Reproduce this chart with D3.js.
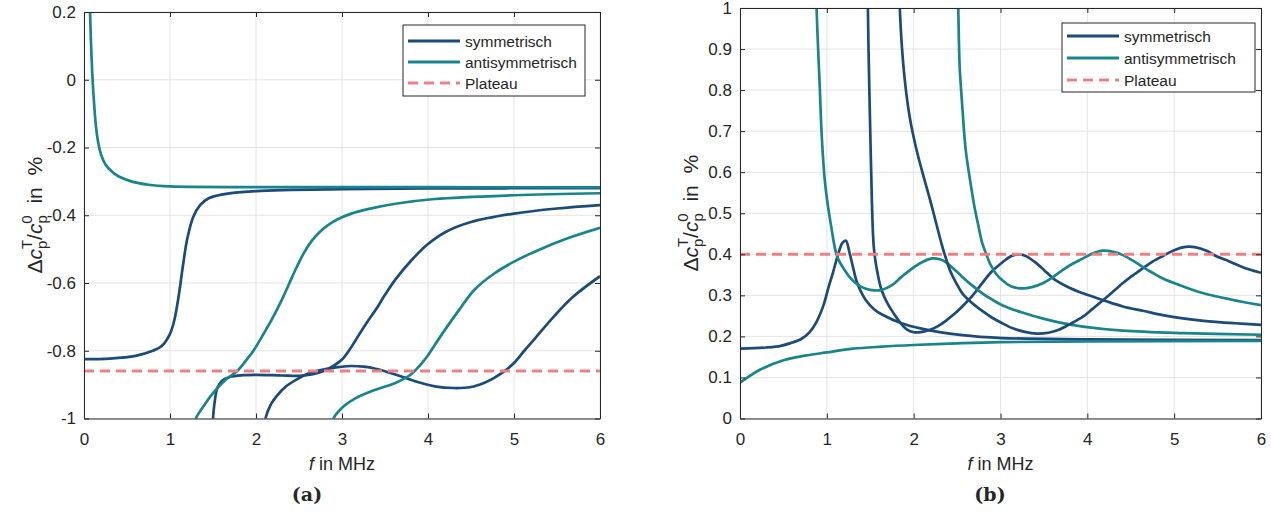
<!DOCTYPE html>
<html>
<head>
<meta charset="utf-8">
<script src="https://cdn.jsdelivr.net/npm/d3@7"></script>
<style>
  body { margin: 0; background: #fff; }
  text { font-family: "Liberation Sans", Arial, Helvetica, sans-serif; fill: #262626; }
</style>
</head>
<body>
<div id="chart"></div>
<script>
// ---- data ----
const xTicks = [0, 1, 2, 3, 4, 5, 6];
const yTickLabelsA = ['-1', '-0.8', '-0.6', '-0.4', '-0.2', '0', '0.2'];
const yTickLabelsB = ['0', '0.1', '0.2', '0.3', '0.4', '0.5', '0.6', '0.7', '0.8', '0.9', '1'];
const legendLabels = ['symmetrisch', 'antisymmetrisch', 'Plateau'];
const captions = ['(a)', '(b)'];
const plateauA = -0.86;
const plateauB = 0.4;

// panel (a): [f in MHz, value in %]
const aSym0 = [[0, -0.825], [0.3, -0.823], [0.6, -0.815], [0.8, -0.8], [0.9, -0.787], [1.0, -0.75],
  [1.05, -0.71], [1.1, -0.64], [1.15, -0.55], [1.2, -0.47], [1.27, -0.405], [1.35, -0.37],
  [1.45, -0.35], [1.6, -0.339], [2.0, -0.329], [3, -0.323], [4, -0.321], [6, -0.32]];
const aSym1 = [[1.49, -1.05], [1.5, -1.0], [1.52, -0.95], [1.55, -0.91], [1.6, -0.89], [1.7, -0.877],
  [1.85, -0.872], [2.0, -0.871], [2.3, -0.873], [2.5, -0.874], [2.65, -0.87], [2.8, -0.858],
  [2.9, -0.845], [3.0, -0.826], [3.08, -0.8], [3.16, -0.768], [3.28, -0.72], [3.39, -0.68],
  [3.5, -0.635], [3.62, -0.59], [3.8, -0.535], [4.0, -0.485], [4.2, -0.45], [4.5, -0.42],
  [5, -0.395], [5.5, -0.38], [6, -0.37]];
const aSym2 = [[2.08, -1.05], [2.11, -1.0], [2.17, -0.96], [2.24, -0.934], [2.35, -0.905], [2.47, -0.885],
  [2.6, -0.868], [2.7, -0.86], [2.93, -0.849], [3.1, -0.845], [3.25, -0.847], [3.39, -0.853],
  [3.62, -0.87], [3.85, -0.89], [4.08, -0.905], [4.3, -0.91], [4.5, -0.907], [4.65, -0.895],
  [4.77, -0.88], [4.9, -0.858], [5.0, -0.836], [5.12, -0.8], [5.23, -0.768], [5.46, -0.7],
  [5.69, -0.64], [6, -0.58]];
const aAnti0 = [[0.065, 0.25], [0.08, 0.12], [0.1, 0.0], [0.12, -0.08], [0.14, -0.14], [0.165, -0.185],
  [0.2, -0.222], [0.25, -0.25], [0.32, -0.27], [0.4, -0.285], [0.55, -0.3], [0.75, -0.31],
  [1.0, -0.315], [2, -0.317], [4, -0.317], [6, -0.318]];
const aAnti1 = [[1.25, -1.05], [1.3, -1.0], [1.4, -0.96], [1.5, -0.925], [1.65, -0.885], [1.78, -0.86],
  [1.88, -0.83], [1.97, -0.8], [2.1, -0.745], [2.2, -0.7], [2.3, -0.65], [2.38, -0.605],
  [2.47, -0.555], [2.56, -0.51], [2.65, -0.475], [2.75, -0.447], [2.85, -0.427], [2.95, -0.412],
  [3.1, -0.396], [3.3, -0.382], [3.62, -0.366], [4.08, -0.352], [5, -0.341], [6, -0.335]];
const aAnti2 = [[2.85, -1.05], [2.9, -1.0], [3.02, -0.964], [3.16, -0.94], [3.39, -0.915], [3.62, -0.895],
  [3.8, -0.87], [3.9, -0.845], [3.99, -0.817], [4.17, -0.748], [4.36, -0.68], [4.54, -0.62],
  [4.77, -0.572], [5, -0.537], [5.28, -0.503], [5.6, -0.47], [6, -0.437]];

// panel (b)
const bSym0 = [[0, 0.17], [0.3, 0.173], [0.47, 0.177], [0.6, 0.185], [0.7, 0.193], [0.8, 0.21],
  [0.88, 0.235], [0.96, 0.275], [1.02, 0.32], [1.07, 0.355], [1.13, 0.4], [1.18, 0.428],
  [1.22, 0.433], [1.26, 0.405], [1.3, 0.37], [1.35, 0.33], [1.45, 0.288], [1.55, 0.265],
  [1.63, 0.254], [1.86, 0.232], [2.09, 0.219], [2.56, 0.203], [3.02, 0.196], [4, 0.193], [6, 0.191]];
const bSym1 = [[1.47, 1.05], [1.48, 0.9], [1.5, 0.7], [1.52, 0.52], [1.54, 0.42], [1.57, 0.37],
  [1.63, 0.313], [1.7, 0.28], [1.77, 0.256], [1.85, 0.232], [1.92, 0.217], [2.0, 0.21],
  [2.1, 0.211], [2.19, 0.216], [2.28, 0.225], [2.37, 0.238], [2.47, 0.255], [2.56, 0.273],
  [2.68, 0.3], [2.79, 0.33], [2.9, 0.358], [3.02, 0.38], [3.12, 0.395], [3.22, 0.4], [3.3, 0.395],
  [3.39, 0.382], [3.5, 0.362], [3.62, 0.339], [3.8, 0.318], [3.95, 0.305], [4.2, 0.287],
  [4.41, 0.273], [4.65, 0.262], [4.87, 0.252], [5.1, 0.244], [5.34, 0.238], [5.7, 0.232], [6, 0.228]];
const bSym2 = [[1.83, 1.05], [1.86, 0.92], [1.9, 0.82], [1.95, 0.74], [2.0, 0.685], [2.05, 0.64],
  [2.12, 0.585], [2.19, 0.532], [2.26, 0.475], [2.33, 0.419], [2.42, 0.36], [2.49, 0.33],
  [2.56, 0.305], [2.68, 0.28], [2.79, 0.262], [2.9, 0.246], [3.02, 0.232], [3.15, 0.219],
  [3.28, 0.211], [3.42, 0.207], [3.55, 0.209], [3.67, 0.216], [3.8, 0.23], [3.95, 0.248],
  [4.06, 0.267], [4.18, 0.288], [4.3, 0.31], [4.41, 0.33], [4.52, 0.348], [4.64, 0.366],
  [4.75, 0.382], [4.87, 0.396], [5.0, 0.41], [5.13, 0.418], [5.25, 0.417], [5.38, 0.408],
  [5.48, 0.396], [5.6, 0.386], [5.71, 0.376], [5.85, 0.364], [6, 0.355]];
const bAnti0 = [[0, 0.087], [0.1, 0.102], [0.24, 0.12], [0.5, 0.142], [0.75, 0.153], [1, 0.161],
  [1.3, 0.17], [1.63, 0.175], [2, 0.179], [2.5, 0.183], [3, 0.186], [4, 0.188], [6, 0.189]];
const bAnti1 = [[0.875, 1.05], [0.89, 0.95], [0.92, 0.8], [0.94, 0.694], [0.98, 0.573], [1.05, 0.468],
  [1.12, 0.394], [1.21, 0.36], [1.28, 0.34], [1.35, 0.327], [1.45, 0.316], [1.55, 0.312],
  [1.63, 0.313], [1.75, 0.325], [1.86, 0.345], [1.98, 0.365], [2.09, 0.38], [2.21, 0.39],
  [2.3, 0.388], [2.37, 0.381], [2.46, 0.365], [2.56, 0.345], [2.68, 0.323], [2.79, 0.305],
  [2.9, 0.29], [3.02, 0.276], [3.25, 0.258], [3.48, 0.244], [3.7, 0.233], [3.95, 0.224],
  [4.41, 0.214], [5.1, 0.208], [6, 0.204]];
const bAnti2 = [[2.51, 1.05], [2.52, 0.93], [2.53, 0.856], [2.56, 0.76], [2.6, 0.653], [2.65, 0.58],
  [2.7, 0.516], [2.75, 0.465], [2.79, 0.427], [2.84, 0.398], [2.88, 0.377], [2.95, 0.352],
  [3.02, 0.337], [3.12, 0.322], [3.25, 0.317], [3.36, 0.32], [3.48, 0.329], [3.6, 0.344],
  [3.71, 0.361], [3.83, 0.377], [3.95, 0.39], [4.06, 0.402], [4.18, 0.409], [4.3, 0.406],
  [4.41, 0.398], [4.52, 0.385], [4.64, 0.369], [4.75, 0.355], [4.87, 0.341], [5.1, 0.322],
  [5.34, 0.305], [5.65, 0.29], [6, 0.276]];

// ---- layout ----
const colorSym = '#1b4a7c';
const colorAnti = '#18858c';
const colorPlateau = '#f08080';

const panels = [
  {
    left: 84, right: 600, top: 12, bottom: 418.5, yDomain: [-1, 0.2], yLabels: yTickLabelsA,
    sym: [aSym0, aSym1, aSym2], anti: [aAnti0, aAnti1, aAnti2], plateau: plateauA,
    legend: { x: 403, y: 25, w: 182, h: 71, rows: [41, 62, 83] },
    caption: captions[0], captionX: 307, ylabelX: 42,
  },
  {
    left: 740, right: 1261, top: 8, bottom: 418.5, yDomain: [0, 1], yLabels: yTickLabelsB,
    sym: [bSym0, bSym1, bSym2], anti: [bAnti0, bAnti1, bAnti2], plateau: plateauB,
    legend: { x: 1062, y: 23, w: 193, h: 69, rows: [36, 58, 80] },
    caption: captions[1], captionX: 990, ylabelX: 698,
  },
];

const svg = d3.select('#chart').append('svg')
  .attr('width', 1271)
  .attr('height', 513);

panels.forEach((p, i) => {
  const x = d3.scaleLinear().domain([0, 6]).range([p.left, p.right]);
  const y = d3.scaleLinear().domain(p.yDomain).range([p.bottom, p.top]);
  const yTicks = p.yLabels.map(Number);
  const g = svg.append('g');

  // grid
  g.append('g').selectAll('line').data(xTicks).join('line')
    .attr('x1', (d) => x(d)).attr('x2', (d) => x(d))
    .attr('y1', p.top).attr('y2', p.bottom)
    .attr('stroke', '#e4e4e4');
  g.append('g').selectAll('line').data(yTicks).join('line')
    .attr('x1', p.left).attr('x2', p.right)
    .attr('y1', (d) => y(d)).attr('y2', (d) => y(d))
    .attr('stroke', '#e4e4e4');

  // curves
  svg.append('clipPath').attr('id', `clip${i}`)
    .append('rect')
    .attr('x', p.left).attr('y', p.top)
    .attr('width', p.right - p.left).attr('height', p.bottom - p.top);

  const line = d3.line()
    .x((d) => x(d[0]))
    .y((d) => y(d[1]))
    .curve(d3.curveCatmullRom.alpha(0.5));

  const curves = g.append('g').attr('clip-path', `url(#clip${i})`);
  p.sym.forEach((s, k) => {
    curves.append('path').datum(s)
      .attr('d', line).attr('fill', 'none')
      .attr('stroke', colorSym).attr('stroke-width', 2.7);
    curves.append('path').datum(p.anti[k])
      .attr('d', line).attr('fill', 'none')
      .attr('stroke', colorAnti).attr('stroke-width', 2.7);
  });
  curves.append('line')
    .attr('x1', p.left).attr('x2', p.right)
    .attr('y1', y(p.plateau)).attr('y2', y(p.plateau))
    .attr('stroke', colorPlateau).attr('stroke-width', 3)
    .attr('stroke-dasharray', '10,6');

  // axes
  const styleAxis = (a) => {
    a.selectAll('path, line').attr('stroke', '#262626');
    a.selectAll('text').attr('fill', '#262626')
      .attr('font-family', '"Liberation Sans", Arial, sans-serif')
      .attr('font-size', 17);
  };
  g.append('g').attr('transform', `translate(0,${p.bottom})`)
    .call(d3.axisBottom(x).tickValues(xTicks).tickFormat((d) => String(d))
      .tickSize(-5).tickSizeOuter(0).tickPadding(14))
    .call(styleAxis);
  g.append('g').attr('transform', `translate(0,${p.top})`)
    .call(d3.axisTop(x).tickValues(xTicks).tickFormat('')
      .tickSize(-5).tickSizeOuter(0))
    .call(styleAxis);
  g.append('g').attr('transform', `translate(${p.left},0)`)
    .call(d3.axisLeft(y).tickValues(yTicks).tickFormat((d, j) => p.yLabels[j])
      .tickSize(-5).tickSizeOuter(0).tickPadding(8))
    .call(styleAxis);
  g.append('g').attr('transform', `translate(${p.right},0)`)
    .call(d3.axisRight(y).tickValues(yTicks).tickFormat('')
      .tickSize(-5).tickSizeOuter(0))
    .call(styleAxis);

  // x label
  const xl = g.append('text')
    .attr('x', (p.left + p.right) / 2).attr('y', 470)
    .attr('text-anchor', 'middle').attr('font-size', 18);
  xl.append('tspan').attr('font-style', 'italic').text('f');
  xl.append('tspan').text(' in MHz');

  // y label
  const yl = g.append('text')
    .attr('transform', `translate(${p.ylabelX},${(p.top + p.bottom) / 2}) rotate(-90)`)
    .attr('text-anchor', 'middle').attr('font-size', 21);
  yl.append('tspan').text('Δ');
  yl.append('tspan').attr('font-style', 'italic').text('c');
  yl.append('tspan').attr('font-size', 15).attr('dy', 5).text('p');
  yl.append('tspan').attr('font-size', 15).attr('dx', -8.4).attr('dy', -15).text('T');
  yl.append('tspan').attr('dy', 10).text('/');
  yl.append('tspan').attr('font-style', 'italic').text('c');
  yl.append('tspan').attr('font-size', 15).attr('dy', 5).text('p');
  yl.append('tspan').attr('font-size', 15).attr('dx', -8.4).attr('dy', -15).text('0');
  yl.append('tspan').attr('dy', 10).text('\u00a0\u00a0in\u00a0\u00a0%');

  // legend
  const lg = g.append('g');
  lg.append('rect')
    .attr('x', p.legend.x).attr('y', p.legend.y)
    .attr('width', p.legend.w).attr('height', p.legend.h)
    .attr('fill', '#fff').attr('stroke', '#262626').attr('stroke-width', 1);
  const legendStyles = [
    { color: colorSym, dash: null },
    { color: colorAnti, dash: null },
    { color: colorPlateau, dash: '10,6' },
  ];
  legendLabels.forEach((label, k) => {
    const ry = p.legend.rows[k];
    lg.append('line')
      .attr('x1', p.legend.x + 5).attr('x2', p.legend.x + 57)
      .attr('y1', ry).attr('y2', ry)
      .attr('stroke', legendStyles[k].color).attr('stroke-width', 3)
      .attr('stroke-dasharray', legendStyles[k].dash);
    lg.append('text')
      .attr('x', p.legend.x + 62).attr('y', ry)
      .attr('dominant-baseline', 'central')
      .attr('font-size', 15.5)
      .text(label);
  });

  // caption
  g.append('text')
    .attr('x', p.captionX).attr('y', 501)
    .attr('text-anchor', 'middle')
    .attr('font-weight', 'bold')
    .attr('font-size', 19)
    .style('font-family', '"DejaVu Serif", serif')
    .text(p.caption);
});
</script>
</body>
</html>
